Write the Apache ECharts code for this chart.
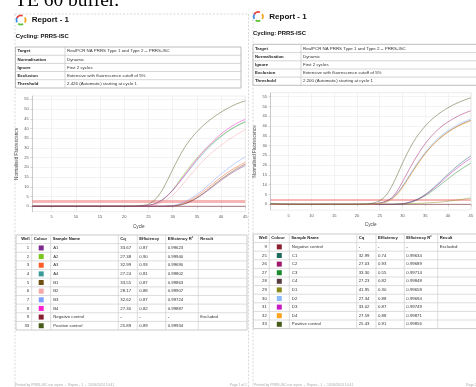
<!DOCTYPE html>
<html>
<head>
<meta charset="utf-8">
<script src="https://cdn.jsdelivr.net/npm/echarts@6/dist/echarts.min.js"></script>
<style>
html,body{margin:0;padding:0;background:#fff;}
#c{width:476px;height:387px;}
</style>
</head>
<body>
<div id="c"></div>
<script>
// ---------- run data ----------
const cycles = [1,2,3,4,5,6,7,8,9,10,11,12,13,14,15,16,17,18,19,20,21,22,23,24,25,26,27,28,29,30,31,32,33,34,35,36,37,38,39,40,41,42,43,44,45];
const xTicks = [5,10,15,20,25,30,35,40,45];
const yTicks = [0,5,10,15,20,25,30,35,40,45,50,55];

const infoLabels = ['Target','Normalisation','Ignore','Exclusion','Threshold'];
const infoValuesL = ['RealPCR NA PRRS Type 1 and Type 2 -- PRRS-ISC','Dynamic','First 2 cycles','Extensive with fluorescence cutoff of 5%','2.426 (Automatic) starting at cycle 1'];
const infoValuesR = ['RealPCR NA PRRS Type 1 and Type 2 -- PRRS-ISC','Dynamic','First 2 cycles','Extensive with fluorescence cutoff of 5%','2.200 (Automatic) starting at cycle 1'];
const thresholdL = 2.426;
const thresholdR = 2.2;

const tableHeaders = ['Well','Colour','Sample Name','Cq','Efficiency','Efficiency R\u00b2','Result'];

// plate 1
const wellsL   = ['1','2','3','4','5','6','7','8','9','33'];
const namesL   = ['A1','A2','A3','A4','B1','B2','B3','B4','Negative control','Positive control'];
const coloursL = ['#7b2a8c','#7ac31a','#ff5c28','#3c9a9a','#6e5010','#f4a7a7','#7f9fff','#ff1fd0','#8a1f30','#465a1a'];
const cqL      = ['33.67','27.38','32.99','27.24','33.55','28.17','32.62','27.30','-','25.89'];
const effL     = ['0.87','0.90','0.93','0.81','0.87','0.88','0.87','0.82','-','0.89'];
const r2L      = ['0.99623','0.99940','0.99690','0.99802','0.99863','0.99907','0.99724','0.99887','-','0.99934'];
const resultL  = ['','','','','','','','','Excluded',''];

const fluA1 = [0,0,0,0,0,0,0,0,0,0,0,0,0,0,0,0,0,0,0,0,0,0,0,0,0,0,0,0,0.1,0.2,0.4,0.9,1.7,2.8,4.2,5.8,7.6,9.5,11.4,13.3,15.1,16.8,18.3,19.7,21.0];
const fluA2 = [0,0,0,0,0,0,0,0,0,0,0,0,0,0,0,0,0,0,0,0,0,0,0.1,0.2,0.5,1.0,1.9,3.4,5.6,8.4,11.8,15.3,18.7,21.9,24.8,27.4,29.8,32.0,34.2,36.2,38.0,39.6,41.0,42.2,43.2];
const fluA3 = [0,0,0,0,0,0,0,0,0,0,0,0,0,0,0,0,0,0,0,0,0,0,0,0,0,0,0,0,0.1,0.3,0.7,1.4,2.4,3.7,5.2,7.0,9.0,11.0,13.0,14.9,16.7,18.4,19.9,21.3,22.5];
const fluA4 = [0,0,0,0,0,0,0,0,0,0,0,0,0,0,0,0,0,0,0,0,0,0,0.1,0.2,0.5,1.1,2.1,3.6,5.7,8.3,11.2,14.3,17.4,20.5,23.5,26.3,29.0,31.5,33.8,35.9,37.8,39.5,41.0,42.4,43.6];
const fluB1 = [0,0,0,0,0,0,0,0,0,0,0,0,0,0,0,0,0,0,0,0,0,0,0,0,0,0,0,0,0.1,0.2,0.5,1.0,1.8,3.0,4.4,6.1,8.0,10.0,12.0,13.9,15.7,17.4,19.0,20.4,21.7];
const fluB2 = [0,0,0,0,0,0,0,0,0,0,0,0,0,0,0,0,0,0,0,0,0,0,0,0.1,0.3,0.6,1.2,2.2,3.7,5.7,8.2,11.0,14.0,17.0,19.9,22.6,25.1,27.4,29.5,31.4,33.2,34.9,36.5,38.0,39.4];
const fluB3 = [0,0,0,0,0,0,0,0,0,0,0,0,0,0,0,0,0,0,0,0,0,0,0,0,0,0,0,0.05,0.15,0.35,0.9,1.8,3.0,4.4,6.1,8.0,10.1,12.3,14.5,16.6,18.6,20.5,22.3,23.9,25.3];
const fluB4 = [0,0,0,0,0,0,0,0,0,0,0,0,0,0,0,0,0,0,0,0,0,0,0.1,0.2,0.5,1.0,2.0,3.5,5.6,8.2,11.2,14.4,17.7,21.0,24.2,27.2,30.0,32.6,35.0,37.2,39.1,40.8,42.3,43.6,44.7];
const fluNegL = [0,0,0,0,0,0,0,0,0,0,0,0,0,0,0,0,0,0,0,0,0,0,0,0,0,0,0,0,0,0,0,0,0,0,0,0,0,0,0,0,0,0,0,0,0];
const fluPosL = [0,0,0,0,0,0,0,0,0,0,0,0,0,0,0,0,0,0,0,0,0.05,0.1,0.2,0.5,1.1,2.6,5.2,9.0,13.8,18.9,23.8,28.3,32.2,35.5,38.3,40.8,43.0,45.0,46.8,48.4,49.9,51.2,52.4,53.4,54.2];
const curvesL = [fluA1,fluA2,fluA3,fluA4,fluB1,fluB2,fluB3,fluB4,fluNegL,fluPosL];

// plate 2
const wellsR   = ['9','25','26','27','28','29','30','31','32','33'];
const namesR   = ['Negative control','C1','C2','C3','C4','D1','D2','D3','D4','Positive control'];
const coloursR = ['#8a1f30','#1f6a5e','#a0186a','#1e8a2e','#5a3c40','#8a8a1a','#8cbcff','#c21cc2','#ffa31f','#465a1a'];
const cqR      = ['-','32.99','27.03','33.30','27.23','41.95','27.34','33.02','27.59','25.43'];
const effR     = ['-','0.74','0.93','0.55','0.82','0.30','0.88','0.87','0.88','0.91'];
const r2R      = ['-','0.99634','0.99689','0.99714','0.99848','0.99658','0.99694','0.99749','0.99871','0.99856'];
const resultR  = ['Excluded','','','','','','','','',''];

const fluNegR = [0,0,0,0,0,0,0,0,0,0,0,0,0,0,0,0,0,0,0,0,0,0,0,0,0,0,0,0,0,0,0,0,0,0,0,0,0,0,0,0,0,0,0,0,0];
const fluC1 = [0,0,0,0,0,0,0,0,0,0,0,0,0,0,0,0,0,0,0,0,0,0,0,0,0,0,0,0,0.1,0.3,0.7,1.4,2.3,3.5,5.0,6.8,8.8,11.0,13.2,15.4,17.5,19.5,21.4,23.1,24.7];
const fluC2 = [0,0,0,0,0,0,0,0,0,0,0,0,0,0,0,0,0,0,0,0,0,0,0.1,0.3,0.7,1.3,2.3,4.2,7.4,11.5,15.8,20.0,24.0,27.7,31.0,33.9,36.4,38.6,40.5,42.1,43.5,44.8,45.9,46.9,47.8];
const fluC3 = [0,0,0,0,0,0,0,0,0,0,0,0,0,0,0,0,0,0,0,0,0,0,0,0,0,0,0,0,0.1,0.2,0.5,1.1,2.0,3.1,4.4,5.9,7.6,9.4,11.2,13.0,14.8,16.5,18.1,19.6,21.0];
const fluC4 = [0,0,0,0,0,0,0,0,0,0,0,0,0,0,0,0,0,0,0,0,0,0,0.1,0.2,0.6,1.1,2.1,3.6,6.0,9.1,12.6,16.2,19.7,23.0,26.0,28.7,31.2,33.4,35.3,37.0,38.5,39.8,41.0,42.0,42.9];
const fluD1 = [0,0,0,0,0,0,0,0,0,0,0,0,0,0,0,0,0,0,0,0,0,0,0,0,0.02,0.04,0.07,0.1,0.15,0.2,0.27,0.35,0.45,0.55,0.67,0.8,0.95,1.1,1.3,1.6,1.9,2.2,2.5,2.9,3.3];
const fluD2 = [0,0,0,0,0,0,0,0,0,0,0,0,0,0,0,0,0,0,0,0,0,0,0.1,0.2,0.5,1.0,1.9,3.5,6.0,9.2,12.8,16.5,20.1,23.5,26.6,29.4,31.9,34.1,36.0,37.7,39.2,40.5,41.7,42.7,43.6];
const fluD3 = [0,0,0,0,0,0,0,0,0,0,0,0,0,0,0,0,0,0,0,0,0,0,0,0,0,0,0,0,0.1,0.3,0.7,1.4,2.2,3.4,4.8,6.5,8.4,10.4,12.5,14.6,16.6,18.5,20.3,22.0,23.5];
const fluD4 = [0,0,0,0,0,0,0,0,0,0,0,0,0,0,0,0,0,0,0,0,0,0,0,0.2,0.4,0.9,1.7,3.1,5.4,8.5,12.0,15.7,19.3,22.7,25.8,28.6,31.0,33.2,35.1,36.8,38.3,39.6,40.7,41.7,42.6];
const fluPosR = [0.5,0.35,0.2,0.1,0.05,0,0,0,0,0,0,0,0,0,0,0,0,0,0,0,0.05,0.15,0.4,0.9,1.8,3.6,6.6,10.8,15.8,21.0,25.9,30.2,34.0,37.2,40.0,42.4,44.5,46.3,47.9,49.3,50.6,51.7,52.7,53.6,54.4];
const curvesR = [fluNegR,fluC1,fluC2,fluC3,fluC4,fluD1,fluD2,fluD3,fluD4,fluPosR];

// ---------- drawing ----------
const FONT = '"Liberation Sans", Arial, sans-serif';
const els = [];

function text(x, y, s, o) {
  o = o || {};
  const al = o.align || 'left';
  els.push({
    type: 'text', x: x, y: y, silent: true,
    style: {
      text: s, fill: o.color || '#333',
      fontFamily: o.family || FONT, fontSize: o.size || 4.4,
      fontWeight: o.bold ? 'bold' : 'normal',
      textAlign: al, align: al,
      textVerticalAlign: 'middle', verticalAlign: 'middle'
    }
  });
}
function line(x1, y1, x2, y2, color, w, dash) {
  els.push({
    type: 'line', silent: true,
    shape: {x1: x1, y1: y1, x2: x2, y2: y2},
    style: {stroke: color, lineWidth: w || 0.6, lineDash: dash || null}
  });
}
function logo(cx, cy) {
  const parts = [
    ['#e8403a', -2.7, -1.2], ['#f5a623', -0.6, 0.6],
    ['#5cc23a', 1.1, 2.2], ['#3a8ee8', 2.6, 3.6]
  ];
  parts.forEach(function (p) {
    els.push({
      type: 'arc', silent: true,
      shape: {cx: cx, cy: cy, r: 4.6, startAngle: p[1], endAngle: p[2]},
      style: {stroke: p[0], fill: null, lineWidth: 1.7}
    });
  });
}
function infoTable(x0, xc, x1, ys, values) {
  els.push({type: 'rect', silent: true,
    shape: {x: x0, y: ys[0], width: x1 - x0, height: ys[ys.length - 1] - ys[0]},
    style: {fill: '#fff', stroke: '#b5b5b5', lineWidth: 0.9}});
  for (let i = 1; i < ys.length - 1; i++) line(x0, ys[i], x1, ys[i], '#c4c4c4', 0.7);
  line(xc, ys[0], xc, ys[ys.length - 1], '#c4c4c4', 0.7);
  for (let i = 0; i < infoLabels.length; i++) {
    const cy = (ys[i] + ys[i + 1]) / 2;
    text(x0 + 2, cy, infoLabels[i], {bold: true, size: 4.3, color: '#222'});
    text(xc + 2, cy, values[i], {size: 4.4, color: '#333'});
  }
}
function resultTable(cols, top, rh, wells, names, colours, cq, eff, r2, res) {
  const n = wells.length + 1;
  const bottom = top + rh * n;
  const xr = cols[cols.length - 1];
  els.push({type: 'rect', silent: true,
    shape: {x: cols[0], y: top, width: xr - cols[0], height: bottom - top},
    style: {fill: '#fff', stroke: '#bdbdbd', lineWidth: 0.8}});
  for (let i = 1; i < n; i++) line(cols[0], top + rh * i, xr, top + rh * i, '#cfcfcf', 0.7);
  for (let j = 1; j < cols.length - 1; j++) line(cols[j], top, cols[j], bottom, '#cfcfcf', 0.7);
  // header
  const hy = top + rh / 2;
  text(cols[1] - 2, hy, tableHeaders[0], {bold: true, size: 4.2, align: 'right', color: '#222'});
  for (let j = 1; j < tableHeaders.length; j++) text(cols[j] + 2, hy, tableHeaders[j], {bold: true, size: 4.2, color: '#222'});
  for (let i = 0; i < wells.length; i++) {
    const cy = top + rh * (i + 1.5);
    text(cols[1] - 2.5, cy, wells[i], {size: 4.3, align: 'right'});
    const sx = (cols[1] + cols[2]) / 2;
    els.push({type: 'rect', silent: true,
      shape: {x: sx - 2.5, y: cy - 2.5, width: 5, height: 5},
      style: {fill: colours[i]}});
    text(cols[2] + 2.5, cy, names[i], {size: 4.3});
    text(cols[3] + 2, cy, cq[i], {size: 4.3});
    text(cols[4] + 2, cy, eff[i], {size: 4.3});
    text(cols[5] + 2, cy, r2[i], {size: 4.3});
    text(cols[6] + 2, cy, res[i], {size: 4.3});
  }
}

// heading above the pages
text(15, 0.5, 'TE 60 buffer.', {family: '"Liberation Serif", "Times New Roman", serif', size: 19.5, color: '#000'});

// page outlines
const dash = [2, 1.6];
line(15, 14, 248.5, 14, '#c9c9c9', 0.7, dash);
line(15, 14, 15, 387, '#c9c9c9', 0.7, dash);
line(248.5, 14, 248.5, 387, '#c9c9c9', 0.7, dash);
line(253, 12, 253, 387, '#c9c9c9', 0.7, dash);

// page 1 headings and tables
logo(21, 20);
text(31.7, 20, 'Report - 1', {bold: true, size: 8, color: '#111'});
text(15.7, 36.7, 'Cycling: PRRS-ISC', {bold: true, size: 5.9, color: '#111'});
infoTable(15.5, 65, 241, [47, 55.3, 63.4, 71.5, 79.7, 88], infoValuesL);
resultTable([16, 31.7, 50.7, 118.3, 137.3, 165.7, 198.3, 247], 235, 8.64,
  wellsL, namesL, coloursL, cqL, effL, r2L, resultL);

// page 2 headings and tables
logo(258.3, 16.5);
text(269.3, 17, 'Report - 1', {bold: true, size: 8, color: '#111'});
text(252.9, 33.5, 'Cycling: PRRS-ISC', {bold: true, size: 5.9, color: '#111'});
infoTable(253, 301, 482, [44.3, 52.6, 60.8, 69, 77.1, 85.3], infoValuesR);
resultTable([253.3, 269.3, 289.3, 356.7, 376, 404.3, 437.7, 482], 234, 8.6,
  wellsR, namesR, coloursR, cqR, effR, r2R, resultR);

// page footers
text(15, 385, 'Printed by PRRS-ISC run report  -  Report - 1  -  13/03/2024 10:41', {size: 3.4, color: '#aaa'});
text(247, 385, 'Page 1 of 2', {size: 3.4, color: '#aaa', align: 'right'});
text(254, 385, 'Printed by PRRS-ISC run report  -  Report - 1  -  13/03/2024 10:41', {size: 3.4, color: '#aaa'});
text(466, 385, 'Page 2', {size: 3.4, color: '#aaa'});

// ---------- amplification charts ----------
function xAxisFor(grid, gap) {
  return {
    gridIndex: grid, type: 'value', min: 1, max: 45,
    name: 'Cycle', nameLocation: 'middle', nameGap: gap,
    nameTextStyle: {fontSize: 4.7, color: '#444', fontFamily: FONT},
    axisLine: {show: true, lineStyle: {color: '#b0b0b0', width: 0.6}},
    axisTick: {show: true, length: 2, customValues: xTicks, lineStyle: {color: '#b0b0b0', width: 0.5}},
    axisLabel: {customValues: xTicks, fontSize: 4, color: '#555', margin: 3.5, fontFamily: FONT},
    splitLine: {show: true, lineStyle: {color: '#ebebeb', width: 0.6}}
  };
}
function yAxisFor(grid, min, max, gap) {
  return {
    gridIndex: grid, type: 'value', min: min, max: max,
    name: 'Normalised Fluorescence', nameLocation: 'middle', nameGap: gap,
    nameTextStyle: {fontSize: 4.6, color: '#444', fontFamily: FONT},
    axisLine: {show: true, lineStyle: {color: '#b0b0b0', width: 0.6}},
    axisTick: {show: true, length: 2, customValues: yTicks, lineStyle: {color: '#b0b0b0', width: 0.5}},
    axisLabel: {customValues: yTicks, fontSize: 4, color: '#555', margin: 3.5, fontFamily: FONT},
    splitLine: {show: true, lineStyle: {color: '#ebebeb', width: 0.6}}
  };
}
function curveSeries(idx, names, colours, curves) {
  return curves.map(function (arr, i) {
    return {
      type: 'line', name: names[i], xAxisIndex: idx, yAxisIndex: idx,
      data: cycles.map(function (c, k) { return [c, arr[k]]; }),
      showSymbol: false, smooth: 0.3, silent: true,
      lineStyle: {color: colours[i], width: 0.75, opacity: 0.65},
      itemStyle: {color: colours[i]}, z: 3
    };
  });
}
function thresholdSeries(idx, value, style) {
  return {
    type: 'line', xAxisIndex: idx, yAxisIndex: idx, silent: true,
    data: [[cycles[0], value], [cycles[cycles.length - 1], value]],
    showSymbol: false, lineStyle: style, z: 2
  };
}

const chart = echarts.init(document.getElementById('c'), null, {renderer: 'canvas'});
chart.setOption({
  animation: false,
  backgroundColor: '#fff',
  grid: [
    {left: 32.3, top: 96, width: 213, height: 115.7, show: true, borderColor: '#e0e0e0', borderWidth: 0.6, containLabel: false},
    {left: 270.5, top: 92.7, width: 215, height: 117.3, show: true, borderColor: '#e0e0e0', borderWidth: 0.6, containLabel: false}
  ],
  xAxis: [xAxisFor(0, 12.6), xAxisFor(1, 12.7)],
  yAxis: [yAxisFor(0, -2.8, 56.7, 12.7), yAxisFor(1, -2.9, 57, 13.3)],
  series: [].concat(
    [thresholdSeries(0, thresholdL, {color: 'rgba(240,110,110,0.5)', width: 3})],
    curveSeries(0, namesL, coloursL, curvesL),
    [thresholdSeries(1, thresholdR, {color: '#f06a6a', width: 1})],
    curveSeries(1, namesR, coloursR, curvesR)
  ),
  graphic: {elements: els}
});
</script>
</body>
</html>
